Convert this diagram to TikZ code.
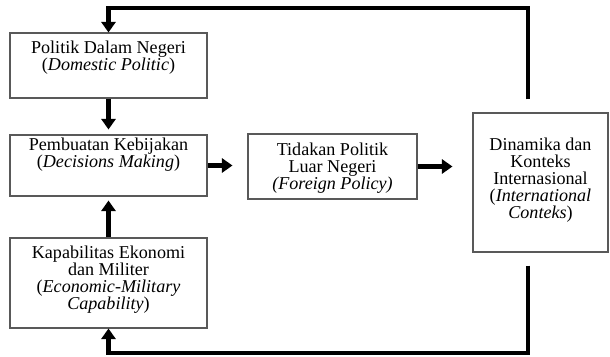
\documentclass[tikz,border=0pt]{standalone}
\usepackage{fontspec}
\setmainfont{Liberation Serif}
\usetikzlibrary{arrows.meta,positioning}

\begin{document}
\begin{tikzpicture}[x=0.02cm,y=-0.02cm,
  box/.style={draw=black!65,line width=0.6pt,inner sep=0pt},
  txt/.style={align=center,inner sep=0pt,font=\fontsize{10.3}{9.7}\selectfont},
  arr/.style={line width=2.4pt,-{Triangle[width=8pt,length=6pt]}}]
\useasboundingbox (0,0) rectangle (610,356);

% boxes
\node (pol) [box,minimum width=3.94cm,minimum height=1.3cm] at (108.5,65.5) {};
\node (dec) [box,minimum width=3.94cm,minimum height=1.22cm] at (108.5,165.5) {};
\node (kap) [box,minimum width=3.94cm,minimum height=1.8cm] at (108.5,283) {};
\node (tin) [box,minimum width=3.38cm,minimum height=1.3cm] at (332.5,166.5) {};
\node (din) [box,minimum width=2.7cm,minimum height=2.78cm] at (540.5,182.5) {};

% texts
\node (poltxt) [txt,below=0.16cm of pol.north] {Politik Dalam Negeri\\(\textit{Domestic Politic})};
\node (dectxt) [txt,below=0.07cm of dec.north] {Pembuatan Kebijakan\\(\textit{Decisions Making})};
\node (kaptxt) [txt,below=0.16cm of kap.north] {Kapabilitas Ekonomi\\dan Militer\\(\textit{Economic-Military}\\\textit{Capability})};
\node (tintxt) [txt,below=0.18cm of tin.north] {Tidakan Politik\\Luar Negeri\\\textit{(Foreign Policy)}};
\node (dintxt) [txt,below=0.5cm of din.north] {Dinamika dan\\Konteks\\Internasional\\(\textit{International}\\\textit{Conteks})};

% corners of the feedback lines
\coordinate (topR) at (528,8);
\coordinate (topL) at (108.5,8);
\coordinate (botR) at (528,353);
\coordinate (botL) at (108.5,353);

\draw [arr,shorten >=0.1cm] (pol) -- (dec);
\draw [arr,shorten >=0.08cm] (kap) -- (dec);
\draw [arr,shorten >=0.3cm] (dec.east) -- (dec.east -| tin.west);
\draw [arr,shorten >=0.4cm] (tin.east) -- (tin.east -| din.west);
\draw [arr,shorten <=0.26cm] (din.north -| topR) -- (topR) -- (topL) -- (pol.north);
\draw [arr,shorten <=0.26cm] (din.south -| botR) -- (botR) -- (botL) -- (kap.south);
\end{tikzpicture}
\end{document}
